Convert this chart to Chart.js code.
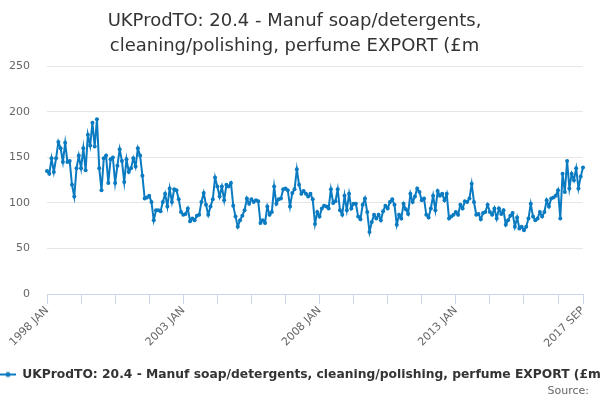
<!DOCTYPE html>
<html><head><meta charset="utf-8">
<script src="https://cdn.jsdelivr.net/npm/chart.js@4.4.1/dist/chart.umd.min.js"></script>
<style>html,body{margin:0;padding:0;background:#fff}#wrap{width:600px;height:400px;position:relative}</style>
</head><body><div id="wrap"><canvas id="c"></canvas></div>
<script>
const titleLines = ["UKProdTO: 20.4 - Manuf soap/detergents,", "cleaning/polishing, perfume EXPORT (£m"];
const seriesName = "UKProdTO: 20.4 - Manuf soap/detergents, cleaning/polishing, perfume EXPORT (£m";
const sourceText = "Source:";
const monthNames = ["JAN","FEB","MAR","APR","MAY","JUN","JUL","AUG","SEP","OCT","NOV","DEC"];
const firstYear = 1998;
const tickLabels = ["1998 JAN","2003 JAN","2008 JAN","2013 JAN","2017 SEP"];
const yTicks = [0, 50, 100, 150, 200, 250];

// monthly values
const values1998to2002 = [135,132,149,134,149,167,160,145,166,145,146,120,
  107,138,152,138,160,136,175,163,188,162,192,138,
  114,149,152,122,148,150,122,141,159,146,123,148,
  134,138,149,140,160,152,130,105,106,108,101,81,
  92,92,91,101,110,96,116,101,115,114,104,90];
const values2003to2007 = [87,88,94,80,83,81,86,87,101,111,98,87,
  96,104,128,118,107,118,103,120,118,122,97,85,
  74,81,86,92,105,99,104,101,103,102,78,81,
  78,96,87,90,118,99,104,105,115,116,114,96,
  111,115,137,120,110,113,110,107,110,104,77,90];
const values2008to2012 = [85,94,97,96,94,115,100,102,115,92,87,108,
  92,110,94,99,99,85,82,98,105,90,68,79,
  87,83,87,81,91,97,94,101,104,98,76,87,
  83,99,93,88,110,101,107,116,112,103,105,87,
  84,94,108,92,113,108,110,103,110,83,85,87];
const values2013to2017 = [90,87,98,94,102,101,105,121,101,87,88,82,
  89,90,98,90,87,94,83,94,88,92,76,81,
  86,89,74,84,72,74,70,74,83,99,85,81,
  83,90,85,90,103,96,105,106,108,114,83,132,
  112,146,116,132,125,138,116,129,139];

const values = [].concat(values1998to2002, values2003to2007, values2008to2012, values2013to2017);
const categories = values.map((v, i) => (firstYear + Math.floor(i / 12)) + " " + monthNames[i % 12]);

const lineColor = "#0b7bc1";
const font = "'DejaVu Sans', sans-serif";

// legend symbol: short line with a marker
const sym = document.createElement("canvas");
sym.width = 16; sym.height = 8;
(function(){
  const g = sym.getContext("2d");
  g.strokeStyle = lineColor; g.lineWidth = 2;
  g.beginPath(); g.moveTo(0, 4); g.lineTo(16, 4); g.stroke();
  g.fillStyle = lineColor; g.beginPath(); g.arc(8, 4, 2.5, 0, Math.PI * 2); g.fill();
})();

// let the legend row run to the right edge of the canvas (it is clipped there, as in the original)
const legendFullWidth = {
  id: "legendFullWidth",
  afterLayout(chart) {
    const l = chart.legend;
    if (l) { l.right = chart.width; l.width = l.right - l.left; }
  }
};

new Chart(document.getElementById("c"), {
  type: "line",
  plugins: [legendFullWidth],
  data: {
    labels: categories,
    datasets: [{
      label: seriesName,
      data: values,
      borderColor: lineColor,
      backgroundColor: lineColor,
      borderWidth: 2,
      pointRadius: 2,
      pointBorderWidth: 0,
      pointBackgroundColor: lineColor,
      tension: 0,
      yAxisID: "y"
    }]
  },
  options: {
    responsive: true,
    maintainAspectRatio: false,
    animation: false,
    devicePixelRatio: 1,
    layout: { padding: { left: 0, right: 11, top: 0, bottom: 0 } },
    plugins: {
      title: {
        display: true,
        text: titleLines,
        color: "#333333",
        font: { family: font, size: 18, weight: "normal", lineHeight: 1.4 },
        padding: { top: 9, bottom: 7 }
      },
      subtitle: {
        display: true,
        text: sourceText,
        position: "bottom",
        align: "end",
        color: "#666666",
        font: { family: font, size: 11, weight: "normal", lineHeight: 1.0 },
        padding: { top: 0, bottom: 3 }
      },
      legend: {
        display: true,
        position: "bottom",
        align: "start",
        maxHeight: 17.7,
        labels: {
          color: "#333333",
          font: { family: font, size: 12.3, weight: "bold" },
          usePointStyle: true,
          pointStyleWidth: 16,
          padding: 0,
          generateLabels: (chart) => {
            const items = Chart.defaults.plugins.legend.labels.generateLabels(chart);
            items.forEach(it => { it.pointStyle = sym; });
            return items;
          }
        }
      },
      tooltip: { enabled: false }
    },
    scales: {
      x: {
        type: "category",
        grid: {
          drawOnChartArea: false,
          drawTicks: true,
          tickLength: 10,
          lineWidth: 1,
          color: (ctx) => (ctx.index % 15 === 0 || ctx.index === values.length - 1) ? "#ccd6eb" : "rgba(0,0,0,0)"
        },
        border: { display: true, color: "#ccd6eb", width: 1 },
        ticks: {
          autoSkip: false,
          minRotation: 45,
          maxRotation: 45,
          padding: 0,
          color: "#666666",
          font: { family: font, size: 11 },
          callback: function(val, idx) {
            const lab = categories[idx];
            return tickLabels.includes(lab) ? lab : "";
          }
        },
        afterFit: (s) => { s.height = 74.3; }
      },
      y: {
        type: "linear",
        position: "left",
        min: 0,
        max: 250,
        afterBuildTicks: (s) => { s.ticks = yTicks.map(v => ({ value: v })); },
        grid: { color: "#e6e6e6", drawTicks: false, lineWidth: 1 },
        border: { display: false },
        ticks: {
          padding: 17,
          color: "#666666",
          font: { family: font, size: 11 }
        },
        afterFit: (s) => { s.width = 47; }
      },
      y2: {
        type: "linear",
        position: "right",
        display: true,
        min: 0, max: 250,
        grid: { display: false, drawTicks: false },
        border: { display: false },
        ticks: { display: false },
        afterFit: (s) => { s.width = 6; }
      }
    }
  }
});
</script>
</body></html>
